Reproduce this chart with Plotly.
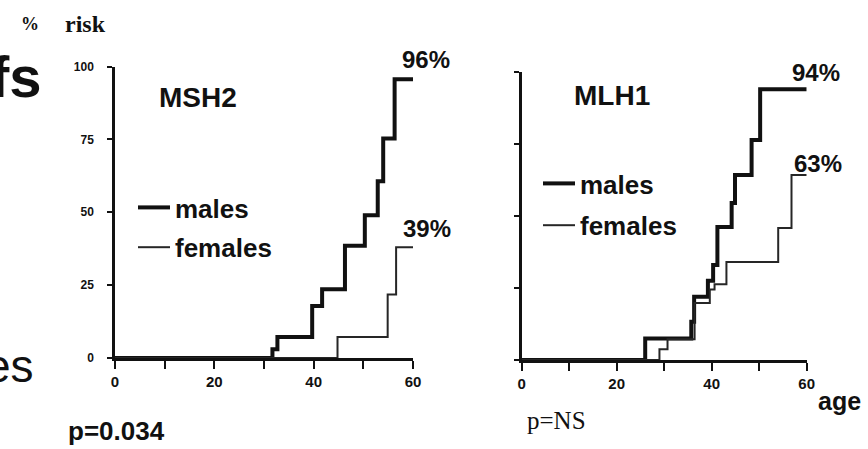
import plotly.graph_objects as go

# ---- data ----
msh2_male_age = [0, 31.7, 32.7, 39.7, 41.7, 46.3, 50.3, 52.9, 54.0, 56.3, 60]
msh2_male_risk = [0, 3, 7.2, 17.8, 23.6, 38.5, 49, 60.6, 75.3, 95.6, 95.6]
msh2_female_age = [0, 44.8, 54.9, 56.6, 60]
msh2_female_risk = [0, 7.2, 21.8, 38, 38]

mlh1_male_age = [0, 26.0, 35.7, 36.3, 39.2, 40.3, 41.2, 44.2, 44.9, 48.4, 50.2, 60]
mlh1_male_risk = [0, 7.5, 13.3, 22, 27.5, 33, 46.2, 54.5, 64.2, 76.4, 94, 94]
mlh1_female_age = [0, 29.0, 30.7, 36.4, 39.6, 40.6, 43.1, 54.0, 56.8, 60]
mlh1_female_risk = [0, 3.7, 7.2, 19.8, 24.5, 26.3, 34, 45.8, 64.2, 64.2]

final_labels_msh2 = ["96%", "39%"]
final_labels_mlh1 = ["94%", "63%"]

x_tickvals = [0, 10, 20, 30, 40, 50, 60]
x_ticktext = ["0", "", "20", "", "40", "", "60"]
y_tickvals = [0, 25, 50, 75, 100]
y_ticktext = ["0", "25", "50", "75", "100"]

W, H = 868, 449

def px(x):
    return x / W

def py(y):
    return (H - y) / H

INK = "#111111"
SANS = "Liberation Sans, Arial, sans-serif"
SERIF = "Liberation Serif, Times New Roman, serif"

fig = go.Figure()

fig.add_trace(go.Scatter(x=msh2_male_age, y=msh2_male_risk, mode="lines", line_shape="hv",
                         line=dict(color=INK, width=4), name="males",
                         xaxis="x", yaxis="y", legend="legend", legendgroup="a"))
fig.add_trace(go.Scatter(x=msh2_female_age, y=msh2_female_risk, mode="lines", line_shape="hv",
                         line=dict(color="#262626", width=2), name="females",
                         xaxis="x", yaxis="y", legend="legend", legendgroup="b"))
fig.add_trace(go.Scatter(x=mlh1_male_age, y=mlh1_male_risk, mode="lines", line_shape="hv",
                         line=dict(color=INK, width=4), name="males",
                         xaxis="x2", yaxis="y2", legend="legend2", legendgroup="c"))
fig.add_trace(go.Scatter(x=mlh1_female_age, y=mlh1_female_risk, mode="lines", line_shape="hv",
                         line=dict(color="#262626", width=2), name="females",
                         xaxis="x2", yaxis="y2", legend="legend2", legendgroup="d"))

xaxis_common = dict(range=[0, 60], tickvals=x_tickvals, ticktext=x_ticktext,
                    showline=True, linecolor=INK, linewidth=2.5, showgrid=False, zeroline=False,
                    ticks="outside", ticklen=8, tickwidth=2, tickcolor=INK,
                    tickfont=dict(family=SANS, size=15, color=INK, weight="bold"),
                    ticklabelstandoff=0, automargin=False)
yaxis_common = dict(range=[0, 100], tickvals=y_tickvals, ticktext=y_ticktext,
                    showline=True, linecolor=INK, linewidth=2.5, showgrid=False, zeroline=False,
                    ticks="outside", ticklen=5, tickwidth=2, tickcolor=INK,
                    tickfont=dict(family=SANS, size=12, color=INK, weight="bold"),
                    ticklabelstandoff=11, automargin=False)

legend_font = dict(family=SANS, size=26, color=INK, weight="bold")

fig.update_layout(
    width=W, height=H,
    margin=dict(l=0, r=0, t=0, b=0),
    paper_bgcolor="white", plot_bgcolor="white",
    xaxis=dict(domain=[px(115), px(413)], anchor="y", **xaxis_common),
    yaxis=dict(domain=[py(358), py(66.5)], anchor="x", **yaxis_common),
    xaxis2=dict(domain=[px(521.7), px(806.7)], anchor="y2", **xaxis_common),
    yaxis2=dict(domain=[py(360), py(72)], anchor="x2", showticklabels=False, **yaxis_common),
    showlegend=True,
    legend=dict(x=px(133), y=py(184), xanchor="left", yanchor="top", font=legend_font,
                bgcolor="rgba(0,0,0,0)", traceorder="grouped", tracegroupgap=3, itemwidth=32),
    legend2=dict(x=px(538), y=py(160), xanchor="left", yanchor="top", font=legend_font,
                 bgcolor="rgba(0,0,0,0)", traceorder="grouped", tracegroupgap=5, itemwidth=32),
)

def ann(text, x, y, size, family=SANS, bold=True, xanchor="center", yanchor="middle"):
    fig.add_annotation(text=text, x=px(x), y=py(y), xref="paper", yref="paper",
                       xanchor=xanchor, yanchor=yanchor, showarrow=False,
                       font=dict(family=family, size=size, color=INK,
                                 weight="bold" if bold else "normal"))

ann("MSH2", 198, 97, 28)
ann("MLH1", 612, 95, 28)
ann(final_labels_msh2[0], 426, 60, 24)
ann(final_labels_msh2[1], 427, 228, 24)
ann(final_labels_mlh1[0], 816, 72, 24)
ann(final_labels_mlh1[1], 818, 164, 24)
ann("p=0.034", 116, 431, 26)
ann("p=NS", 556, 420, 25, family=SERIF, bold=False)
ann("age", 839, 401, 25)
ann("%", 30, 24, 18, family=SERIF)
ann("risk", 85, 24, 24, family=SERIF)
# fragments of slide text cut off at the left edge, as in the reference
ann("fs", 44, 76, 58, xanchor="right")
ann("es", 36, 366, 46, bold=False, xanchor="right")

# the browser's default 8px body margin would push the 868x449 figure out of the window
fig.write_html("out.html", config={"displayModeBar": False},
               post_script="document.body.style.margin='0';document.body.style.overflow='hidden';")
